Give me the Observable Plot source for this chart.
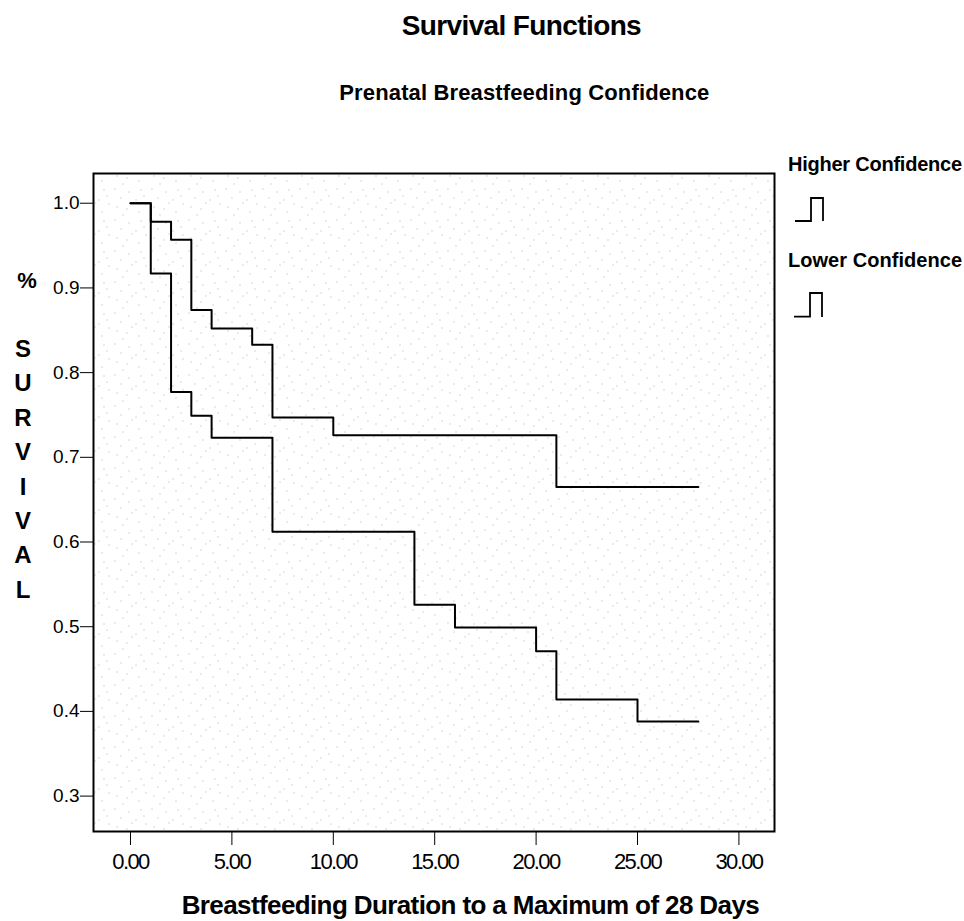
<!DOCTYPE html>
<html>
<head>
<meta charset="utf-8">
<script src="https://cdn.jsdelivr.net/npm/d3@7"></script>
<script src="https://cdn.jsdelivr.net/npm/@observablehq/plot@0.6"></script>
<style>
  html, body { margin: 0; padding: 0; background: #fff; }
  #wrap { position: relative; width: 964px; height: 921px; overflow: hidden; }
  #wrap > svg { position: absolute; left: 0; top: 0; }
  #plot svg { font-family: "Liberation Sans", Arial, sans-serif; }
  #plot [aria-label^="x-axis"] text { font-size: 22px; letter-spacing: -1.6px; fill: #000; }
  #plot [aria-label^="y-axis"] text { font-size: 19px; fill: #000; }
  #overlay text { font-family: "Liberation Sans", Arial, sans-serif; font-weight: bold; fill: #000; }
</style>
</head>
<body>
<div id="wrap">
  <div id="plot"></div>
  <svg id="overlay" width="964" height="921"></svg>
</div>
<script>
// ---- data ----
const higherTime = [0, 1, 2, 3, 4, 6, 7, 10, 21, 28];
const higherSurv = [1.0, 0.978, 0.957, 0.874, 0.852, 0.833, 0.747, 0.726, 0.665, 0.665];
const lowerTime  = [0, 1, 2, 3, 4, 7, 14, 16, 20, 21, 25, 28];
const lowerSurv  = [1.0, 0.917, 0.777, 0.749, 0.723, 0.612, 0.526, 0.499, 0.471, 0.414, 0.388, 0.388];
const xTicks = [0, 5, 10, 15, 20, 25, 30];
const yTicks = [0.3, 0.4, 0.5, 0.6, 0.7, 0.8, 0.9, 1.0];
const seriesNames = ["Higher Confidence", "Lower Confidence"];
const titleText = "Survival Functions";
const subtitleText = "Prenatal Breastfeeding Confidence";
const xLabel = "Breastfeeding Duration to a Maximum of 28 Days";
const yLabelTop = "%";
const yLabelLetters = ["S", "U", "R", "V", "I", "V", "A", "L"];

const higher = higherTime.map((t, i) => ({t, s: higherSurv[i], g: seriesNames[0]}));
const lower = lowerTime.map((t, i) => ({t, s: lowerSurv[i], g: seriesNames[1]}));

const chart = Plot.plot({
  width: 964,
  height: 921,
  marginLeft: 93,
  marginRight: 190,
  marginTop: 173,
  marginBottom: 90,
  style: {background: "transparent", color: "#000", fontFamily: "Liberation Sans, Arial, sans-serif"},
  x: {domain: [-1.824, 31.755], ticks: xTicks, tickFormat: d => d.toFixed(2), tickSize: 14, tickPadding: 8, label: null},
  y: {domain: [0.2582, 1.0351], ticks: yTicks, tickFormat: d => d.toFixed(1), tickSize: 13, tickPadding: 1, label: null},
  marks: [
    Plot.frame({fill: "url(#stipple)", stroke: "none"}),
    Plot.line(higher, {x: "t", y: "s", curve: "step-after", stroke: "#000", strokeWidth: 2}),
    Plot.line(lower, {x: "t", y: "s", curve: "step-after", stroke: "#000", strokeWidth: 2}),
    Plot.frame({stroke: "#000", strokeWidth: 2})
  ]
});

// stipple pattern for plot background
const ns = "http://www.w3.org/2000/svg";
const defs = document.createElementNS(ns, "defs");
const pat = document.createElementNS(ns, "pattern");
pat.setAttribute("id", "stipple");
pat.setAttribute("patternUnits", "userSpaceOnUse");
pat.setAttribute("width", "37");
pat.setAttribute("height", "31");
const dots = [[3,2],[17,5],[29,3],[9,11],[24,13],[34,17],[5,20],[15,22],[27,25],[11,28],[20,16],[32,9]];
for (const [dx, dy] of dots) {
  const r = document.createElementNS(ns, "rect");
  r.setAttribute("x", dx); r.setAttribute("y", dy);
  r.setAttribute("width", 1); r.setAttribute("height", 1);
  r.setAttribute("fill", "#b0b0b0");
  pat.appendChild(r);
}
defs.appendChild(pat);
chart.insertBefore(defs, chart.firstChild);
document.getElementById("plot").appendChild(chart);

// overlay texts and legend
const ov = d3.select("#overlay");
function txt(x, y, s, size, opts = {}) {
  const t = ov.append("text").attr("x", x).attr("y", y).attr("font-size", size).text(s);
  if (opts.anchor) t.attr("text-anchor", opts.anchor);
  if (opts.len) t.attr("textLength", opts.len).attr("lengthAdjust", "spacing");
  return t;
}
txt(401.7, 35, titleText, 28, {len: 240});
txt(339.3, 99.5, subtitleText, 22, {len: 370});
txt(181.7, 914, xLabel, 26, {len: 578});
txt(788, 171, seriesNames[0], 20, {len: 174});
txt(788, 266.7, seriesNames[1], 20, {len: 174});
ov.append("path").attr("d", "M795,221H811V198H823V221").attr("fill", "none").attr("stroke", "#000").attr("stroke-width", 1.8);
ov.append("path").attr("d", "M794,316.7H810V293H822V317").attr("fill", "none").attr("stroke", "#000").attr("stroke-width", 1.8);
txt(27, 288, yLabelTop, 22, {anchor: "middle"});
yLabelLetters.forEach((c, i) => txt(23, 357 + i * 34.4, c, 24, {anchor: "middle"}));
</script>
</body>
</html>
